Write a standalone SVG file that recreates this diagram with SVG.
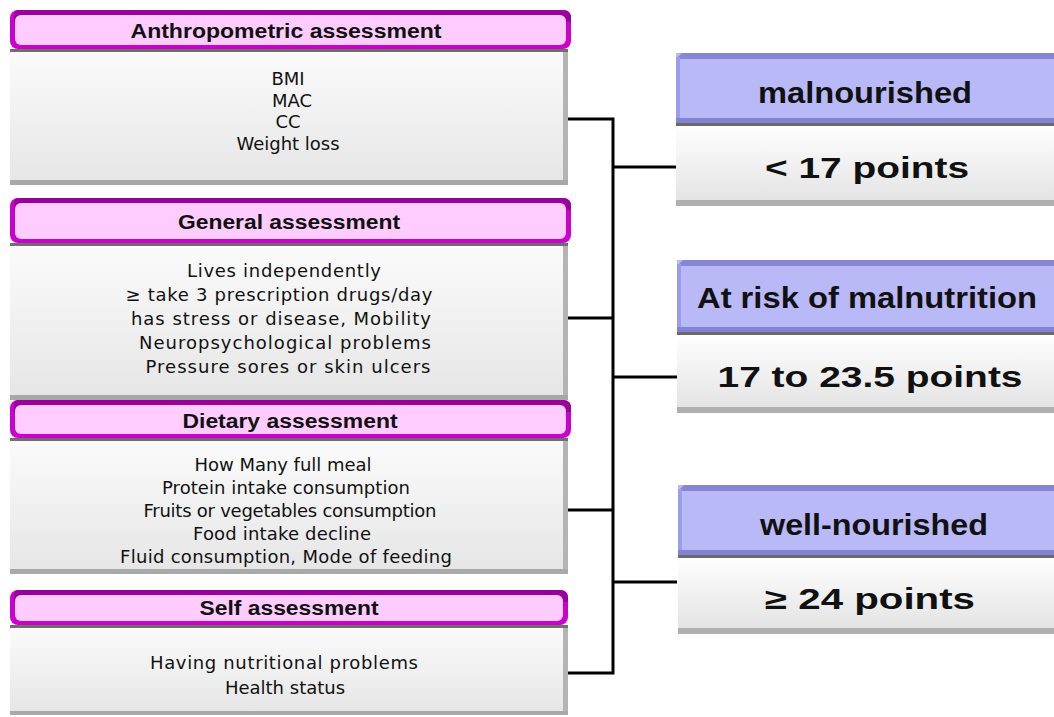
<svg xmlns="http://www.w3.org/2000/svg" width="1054" height="717" viewBox="0 0 1054 717">
<defs>
<linearGradient id="bodyG" x1="0" y1="0" x2="0" y2="1">
<stop offset="0" stop-color="#fbfbfb"/>
<stop offset="1" stop-color="#e6e6e6"/>
</linearGradient>
<linearGradient id="rbodyG" x1="0" y1="0" x2="0" y2="1">
<stop offset="0" stop-color="#ffffff"/>
<stop offset="1" stop-color="#e4e4e4"/>
</linearGradient>
</defs>
<style>
.hdrOuter{fill:#cc00cc}
.hdrTop{fill:#990099}
.hdrInner{fill:#ffccff}
.body{fill:url(#bodyG)}
.bodyEdgeR{fill:#b4b4b4}
.bodyEdgeB{fill:#a8a8a8}
.bodyTop{fill:#6e6e6e}
.ht{font-family:"Liberation Sans",Arial,sans-serif;font-weight:bold;font-size:20px;fill:#111;text-anchor:middle}
.bt{font-family:"DejaVu Sans","Liberation Sans",sans-serif;font-size:18px;fill:#111;text-anchor:middle}
.rh{fill:#b9b9f7}
.rhTop{fill:#8686d2}
.rhLeft{fill:#9c9ce8}
.rhBot{fill:#8383d4}
.rbody{fill:url(#rbodyG)}
.rbodyTop{fill:#6a6a6a}
.rbodyB{fill:#b0b0b0}
.rt{font-family:"Liberation Sans",Arial,sans-serif;font-weight:bold;font-size:29px;fill:#111;text-anchor:middle}
.conn{fill:none;stroke:#000;stroke-width:3;stroke-linejoin:miter}
</style>

<g id="connectors">
<path class="conn" d="M566 119 H613 V673 H566"/>
<path class="conn" d="M566 318 H613"/>
<path class="conn" d="M566 510 H613"/>
<path class="conn" d="M613 167 H677"/>
<path class="conn" d="M613 377 H677"/>
<path class="conn" d="M613 582 H677"/>
</g>

<g id="anthropometric">
<rect class="bodyEdgeR" x="562" y="49" width="6" height="136"/>
<rect class="bodyEdgeB" x="10" y="180" width="558" height="5"/>
<rect class="body" x="10" y="49" width="553" height="131"/>
<rect class="bodyTop" x="10" y="49" width="558" height="3"/>
<rect class="hdrOuter" x="10" y="10" width="561" height="39" rx="8"/>
<path class="hdrTop" d="M18 10 H563 Q571 10 571 18 V22 H14 V16 Q14 10 18 10 Z"/>
<rect class="hdrInner" x="15" y="15" width="551" height="30" rx="6"/>
<text class="ht" x="286" y="38" textLength="311" lengthAdjust="spacingAndGlyphs">Anthropometric assessment</text>
<text class="bt" x="288" y="85">BMI</text>
<text class="bt" x="292" y="107">MAC</text>
<text class="bt" x="288" y="128">CC</text>
<text class="bt" x="288" y="150">Weight loss</text>
</g>

<g id="general">
<rect class="bodyEdgeR" x="562" y="243" width="6" height="157"/>
<rect class="bodyEdgeB" x="10" y="395" width="558" height="5"/>
<rect class="body" x="10" y="243" width="553" height="152"/>
<rect class="bodyTop" x="10" y="243" width="558" height="3"/>
<rect class="hdrOuter" x="10" y="198" width="561" height="45" rx="8"/>
<path class="hdrTop" d="M18 198 H563 Q571 198 571 206 V210 H14 V204 Q14 198 18 198 Z"/>
<rect class="hdrInner" x="15" y="203" width="551" height="36" rx="6"/>
<text class="ht" x="289" y="229" textLength="222" lengthAdjust="spacingAndGlyphs">General assessment</text>
<text class="bt" x="284" y="277" textLength="194" lengthAdjust="spacing">Lives independently</text>
<text class="bt" x="279" y="301" textLength="307" lengthAdjust="spacing">≥ take 3 prescription drugs/day</text>
<text class="bt" x="281" y="325" textLength="300" lengthAdjust="spacing">has stress or disease, Mobility</text>
<text class="bt" x="285" y="349" textLength="292" lengthAdjust="spacing">Neuropsychological problems</text>
<text class="bt" x="288" y="373" textLength="285" lengthAdjust="spacing">Pressure sores or skin ulcers</text>
</g>

<g id="dietary">
<rect class="bodyEdgeR" x="562" y="438" width="6" height="136"/>
<rect class="bodyEdgeB" x="10" y="569" width="558" height="5"/>
<rect class="body" x="10" y="438" width="553" height="131"/>
<rect class="bodyTop" x="10" y="438" width="558" height="3"/>
<rect class="hdrOuter" x="10" y="400" width="561" height="38" rx="8"/>
<path class="hdrTop" d="M18 400 H563 Q571 400 571 408 V412 H14 V406 Q14 400 18 400 Z"/>
<rect class="hdrInner" x="15" y="405" width="551" height="29" rx="6"/>
<text class="ht" x="290" y="428" textLength="215" lengthAdjust="spacingAndGlyphs">Dietary assessment</text>
<text class="bt" x="283" y="471" textLength="177" lengthAdjust="spacing">How Many full meal</text>
<text class="bt" x="286" y="494" textLength="248" lengthAdjust="spacing">Protein intake consumption</text>
<text class="bt" x="290" y="517" textLength="293" lengthAdjust="spacing">Fruits or vegetables consumption</text>
<text class="bt" x="282" y="540" textLength="178" lengthAdjust="spacing">Food intake decline</text>
<text class="bt" x="286" y="563" textLength="332" lengthAdjust="spacing">Fluid consumption, Mode of feeding</text>
</g>

<g id="self">
<rect class="bodyEdgeR" x="562" y="625" width="6" height="90"/>
<rect class="bodyEdgeB" x="10" y="711" width="558" height="4"/>
<rect class="body" x="10" y="625" width="553" height="86"/>
<rect class="bodyTop" x="10" y="625" width="558" height="3"/>
<rect class="hdrOuter" x="10" y="590" width="558" height="35" rx="8"/>
<path class="hdrTop" d="M18 590 H560 Q568 590 568 598 V602 H14 V596 Q14 590 18 590 Z"/>
<rect class="hdrInner" x="15" y="595" width="548" height="26" rx="6"/>
<text class="ht" x="289" y="615" textLength="179" lengthAdjust="spacingAndGlyphs">Self assessment</text>
<text class="bt" x="284" y="669" textLength="268" lengthAdjust="spacing">Having nutritional problems</text>
<text class="bt" x="285" y="694" font-size="19">Health status</text>
</g>

<g id="malnourished">
<rect class="rbodyB" x="676" y="200" width="380" height="6"/>
<rect class="rbody" x="676" y="123" width="380" height="77"/>
<rect class="rbodyTop" x="676" y="123" width="380" height="3"/>
<rect class="rh" x="676" y="53" width="380" height="70"/>
<path class="rhTop" d="M682 53 H1056 V59 H676 Z"/>
<rect class="rhLeft" x="676" y="57" width="4" height="62"/>
<rect class="rhBot" x="676" y="118" width="380" height="5"/>
<text class="rt" x="865" y="103" textLength="214" lengthAdjust="spacingAndGlyphs">malnourished</text>
<text class="rt" x="867" y="178" font-size="30" textLength="204" lengthAdjust="spacingAndGlyphs">&lt; 17 points</text>
</g>

<g id="at-risk">
<rect class="rbodyB" x="677" y="407" width="380" height="6"/>
<rect class="rbody" x="677" y="332" width="380" height="75"/>
<rect class="rbodyTop" x="677" y="332" width="380" height="3"/>
<rect class="rh" x="677" y="260" width="380" height="72"/>
<path class="rhTop" d="M683 260 H1057 V266 H677 Z"/>
<rect class="rhLeft" x="677" y="264" width="4" height="63"/>
<rect class="rhBot" x="677" y="327" width="380" height="5"/>
<text class="rt" x="867" y="308" textLength="340" lengthAdjust="spacingAndGlyphs">At risk of malnutrition</text>
<text class="rt" x="870" y="387" font-size="30" textLength="305" lengthAdjust="spacingAndGlyphs">17 to 23.5 points</text>
</g>

<g id="well-nourished">
<rect class="rbodyB" x="678" y="628" width="380" height="6"/>
<rect class="rbody" x="678" y="555" width="380" height="73"/>
<rect class="rbodyTop" x="678" y="555" width="380" height="3"/>
<rect class="rh" x="678" y="485" width="380" height="70"/>
<path class="rhTop" d="M684 485 H1058 V491 H678 Z"/>
<rect class="rhLeft" x="678" y="489" width="4" height="61"/>
<rect class="rhBot" x="678" y="550" width="380" height="5"/>
<text class="rt" x="874" y="535" textLength="228" lengthAdjust="spacingAndGlyphs">well-nourished</text>
<text class="rt" x="870" y="609" font-size="30" textLength="210" lengthAdjust="spacingAndGlyphs">≥ 24 points</text>
</g>
</svg>
